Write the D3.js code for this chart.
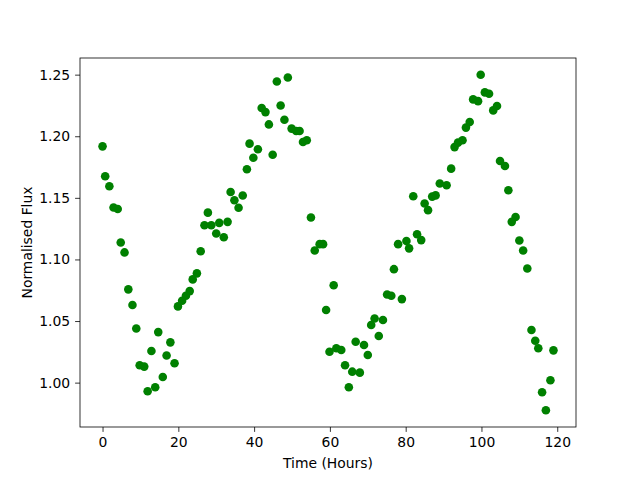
<!DOCTYPE html>
<html>
<head>
<meta charset="utf-8">
<script src="https://cdn.jsdelivr.net/npm/d3@7/dist/d3.min.js"></script>
<style>
  body { margin: 0; background: #fff; }
  svg { display: block; font-family: 'DejaVu Sans', sans-serif; }
</style>
</head>
<body>
<div id="app"></div>
<script>
const times = [
  0, 0.7, 1.8, 2.9, 4.0, 4.8, 5.8, 6.8, 7.9, 8.9, 9.8, 11.0, 11.9, 12.9, 13.9,
  14.7, 15.9, 16.9, 17.9, 19.0, 19.9, 21.0, 22.0, 23.0, 23.8, 24.9, 25.9, 26.9,
  27.8, 28.7, 30.0, 30.8, 32.0, 33.0, 33.8, 34.8, 35.9, 37.0, 38.1, 38.8, 39.8,
  41.0, 42.0, 43.0, 43.9, 44.9, 46.0, 47.0, 48.0, 48.9, 49.9, 51.1, 52.0, 52.9,
  53.9, 55.0, 56.0, 57.3, 58.2, 59.0, 59.9, 61.0, 61.7, 63.0, 64.0, 65.0, 65.9,
  66.8, 67.9, 69.0, 70.0, 70.9, 71.8, 72.9, 74.0, 75.1, 76.2, 76.9, 78.0, 79.0,
  80.2, 80.9, 82.0, 83.0, 84.1, 85.0, 85.9, 87.0, 87.9, 89.0, 90.8, 92.0, 92.9,
  93.8, 95.0, 95.9, 96.9, 97.8, 99.1, 99.8, 100.9, 102.0, 103.1, 104.1, 104.9,
  106.2, 107.1, 108.0, 109.0, 110.0, 111.0, 112.1, 113.2, 114.2, 115.0, 116.0,
  117.0, 118.2, 119.0,
];
const flux = [
  1.1918, 1.1675, 1.1594, 1.1421, 1.1410, 1.1138, 1.1057, 1.0757, 1.0630, 1.0440,
  1.0141, 1.0130, 0.9930, 1.0257, 0.9963, 1.0410, 1.0046, 1.0220, 1.0327, 1.0157,
  1.0619, 1.0665, 1.0705, 1.0743, 1.0838, 1.0887, 1.1067, 1.1278, 1.1380, 1.1278,
  1.1210, 1.1297, 1.1180, 1.1305, 1.1548, 1.1480, 1.1420, 1.1519, 1.1732, 1.1940,
  1.1826, 1.1894, 1.2229, 1.2196, 1.2096, 1.1850, 1.2445, 1.2250, 1.2134, 1.2477,
  1.2062, 1.2042, 1.2042, 1.1953, 1.1967, 1.1340, 1.1073, 1.1124, 1.1124, 1.0589,
  1.0251, 1.0790, 1.0279, 1.0265, 1.0141, 0.9963, 1.0089, 1.0332, 1.0081, 1.0305,
  1.0224, 1.0468, 1.0520, 1.0378, 1.0508, 1.0716, 1.0705, 1.0921, 1.1124, 1.0678,
  1.1150, 1.1090, 1.1513, 1.1205, 1.1157, 1.1454, 1.1400, 1.1510, 1.1520, 1.1616,
  1.1602, 1.1737, 1.1912, 1.1948, 1.1967, 1.2070, 1.2115, 1.2299, 1.2285, 1.2499,
  1.2356, 1.2345, 1.2210, 1.2245, 1.1799, 1.1759, 1.1562, 1.1305, 1.1345, 1.1154,
  1.1073, 1.0927, 1.0427, 1.0340, 1.0279, 0.9922, 0.9776, 1.0019, 1.0262,
];
const xTicks = [0, 20, 40, 60, 80, 100, 120];
const yTicks = [1.0, 1.05, 1.1, 1.15, 1.2, 1.25];

const width = 640;
const height = 480;
const margin = { top: 58, right: 64, bottom: 53, left: 80 };
const chartWidth = width - margin.left - margin.right;
const chartHeight = height - margin.top - margin.bottom;

// matplotlib style autoscale: data extent plus 5% on each side
function padded(values) {
  const [lo, hi] = d3.extent(values);
  const pad = (hi - lo) * 0.05;
  return [lo - pad, hi + pad];
}

const points = times.map((t, i) => ({ t, f: flux[i] }));

const xScale = d3.scaleLinear().domain(padded(times)).range([0, chartWidth]);
const yScale = d3.scaleLinear().domain(padded(flux)).range([chartHeight, 0]);

const svg = d3
  .select('#app')
  .append('svg')
  .attr('width', width)
  .attr('height', height);

const chartGroup = svg
  .append('g')
  .attr('transform', `translate(${margin.left}, ${margin.top})`);

chartGroup
  .append('g')
  .selectAll('circle')
  .data(points)
  .enter()
  .append('circle')
  .attr('cx', d => xScale(d.t))
  .attr('cy', d => yScale(d.f))
  .attr('r', 4.3)
  .attr('fill', '#008000');

const xAxis = d3
  .axisBottom(xScale)
  .tickValues(xTicks)
  .tickSize(4.9)
  .tickPadding(4.9)
  .tickFormat(d3.format('d'));
const yAxis = d3
  .axisLeft(yScale)
  .tickValues(yTicks)
  .tickSize(4.9)
  .tickPadding(4.9)
  .tickFormat(d3.format('.2f'));

const xAxisGroup = chartGroup
  .append('g')
  .attr('transform', `translate(0, ${chartHeight})`)
  .call(xAxis);
const yAxisGroup = chartGroup.append('g').call(yAxis);

[xAxisGroup, yAxisGroup].forEach(g => {
  g.select('.domain').remove();
  g.selectAll('line').attr('stroke', '#000').attr('stroke-width', 0.8);
  g.selectAll('text')
    .attr('fill', '#000')
    .style('font-size', '13.9px')
    .style('font-family', "'DejaVu Sans', sans-serif");
});

// frame around the plotting area
chartGroup
  .append('rect')
  .attr('width', chartWidth)
  .attr('height', chartHeight)
  .attr('fill', 'none')
  .attr('stroke', '#000')
  .attr('stroke-width', 0.8);

svg
  .append('text')
  .attr('x', margin.left + chartWidth / 2)
  .attr('y', 468)
  .attr('text-anchor', 'middle')
  .style('font-size', '13.9px')
  .text('Time (Hours)');

svg
  .append('text')
  .attr('transform', `translate(32, ${margin.top + chartHeight / 2}) rotate(-90)`)
  .attr('text-anchor', 'middle')
  .style('font-size', '13.9px')
  .text('Normalised Flux');
</script>
</body>
</html>
